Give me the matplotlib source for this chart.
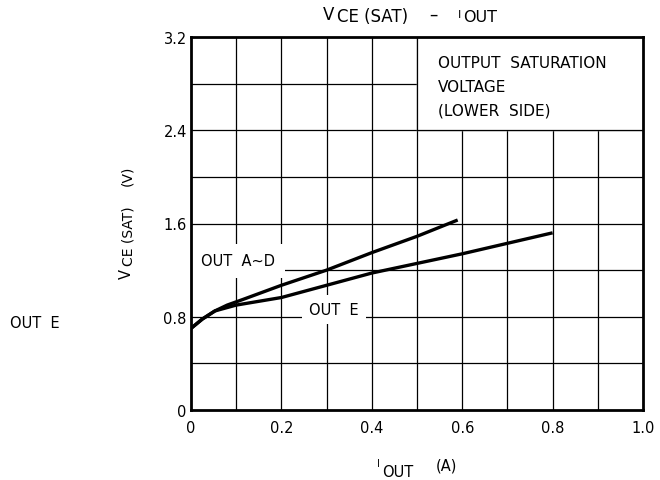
import matplotlib
matplotlib.use("Agg")
import matplotlib.pyplot as plt
import numpy as np

plt.rcParams['font.family'] = ['DejaVu Sans']

i_out_ad = [0.0, 0.025, 0.053, 0.08, 0.116, 0.2, 0.3, 0.4, 0.5, 0.59]
vce_ad = [0.70, 0.78, 0.85, 0.90, 0.95, 1.07, 1.20, 1.35, 1.49, 1.63]
i_out_e = [0.0, 0.025, 0.053, 0.1, 0.2, 0.3, 0.4, 0.6, 0.8]
vce_e = [0.70, 0.78, 0.85, 0.90, 0.965, 1.07, 1.175, 1.34, 1.52]

x_ticks = [0, 0.2, 0.4, 0.6, 0.8, 1.0]
x_ticklabels = ["0", "0.2", "0.4", "0.6", "0.8", "1.0"]
y_ticks = [0, 0.8, 1.6, 2.4, 3.2]
y_ticklabels = ["0", "0.8", "1.6", "2.4", "3.2"]

W, H = 660, 481


def px(x, y):
    # pixel position (top-left origin) -> figure fraction
    return x / W, 1 - y / H


fig = plt.figure(figsize=(6.6, 4.81), dpi=100)
ax = fig.add_axes([191/W, 1 - 411/H, 452/W, 373/H])

ax.set_xlim(0, 1.0)
ax.set_ylim(0, 3.2)

# grid
for gx in np.arange(0.1, 1.0, 0.1):
    ax.axvline(gx, color='black', lw=0.9, zorder=1)
for gy in np.arange(0.4, 3.2, 0.4):
    ax.axhline(gy, color='black', lw=0.9, zorder=1)

# box in the upper right covers the grid
ax.fill_between([0.5, 1.0], 2.4, 3.2, color='white', zorder=2)
ax.plot([0.5, 0.5], [2.4, 3.2], color='black', lw=0.9, zorder=3)
ax.plot([0.5, 1.0], [2.4, 2.4], color='black', lw=0.9, zorder=3)
box_lines = ["OUTPUT  SATURATION", "VOLTAGE", "(LOWER  SIDE)"]
for k, line in enumerate(box_lines):
    fig.text(*px(438, 68 + 23.5 * k), line, fontsize=11, va='baseline', ha='left', zorder=4)

ax.plot(i_out_ad, vce_ad, color='black', lw=2.4, zorder=5, solid_capstyle='butt')
ax.plot(i_out_e, vce_e, color='black', lw=2.4, zorder=5, solid_capstyle='butt')

ax.text(0.104, 1.28, "OUT  A~D", fontsize=10.5, ha='center', va='center', zorder=4,
        bbox=dict(facecolor='white', edgecolor='none', pad=7))
ax.text(0.317, 0.866, "OUT  E", fontsize=10.5, ha='center', va='center', zorder=4,
        bbox=dict(facecolor='white', edgecolor='none', pad=5))

ax.set_xticks(x_ticks)
ax.set_xticklabels(x_ticklabels)
ax.set_yticks(y_ticks)
ax.set_yticklabels(y_ticklabels)
ax.tick_params(axis='x', length=0, labelsize=10.5, pad=7)
ax.tick_params(axis='y', length=0, labelsize=10.5, pad=3)
for s in ax.spines.values():
    s.set_linewidth(2)
    s.set_zorder(6)

# title, pieces placed by hand
fig.text(*px(323, 20.5), "V", fontsize=12, va='baseline')
fig.text(*px(337, 22.5), "CE (SAT)", fontsize=12, va='baseline')
fig.text(*px(429, 19.5), "\u2013", fontsize=12, va='baseline')
fig.text(*px(458, 18), "I", fontsize=8, va='baseline')
fig.text(*px(463, 21.5), "OUT", fontsize=11.5, va='baseline')

# x label
fig.text(*px(377, 467), "I", fontsize=7, va='baseline')
fig.text(*px(382, 477), "OUT", fontsize=10.5, va='baseline')
fig.text(*px(436, 471), "(A)", fontsize=10.5, va='baseline')

# y label
fig.text(*px(131, 279), "V", fontsize=10.5, rotation=90, rotation_mode='anchor',
         ha='left', va='baseline')
fig.text(*px(132, 266), "CE (SAT)", fontsize=10, rotation=90, rotation_mode='anchor',
         ha='left', va='baseline')
fig.text(*px(131, 186), "(V)", fontsize=10, rotation=90, rotation_mode='anchor',
         ha='left', va='baseline')

fig.text(*px(10, 328), "OUT  E", fontsize=10.5, ha='left', va='baseline')

fig.savefig("out.png", dpi=100)
